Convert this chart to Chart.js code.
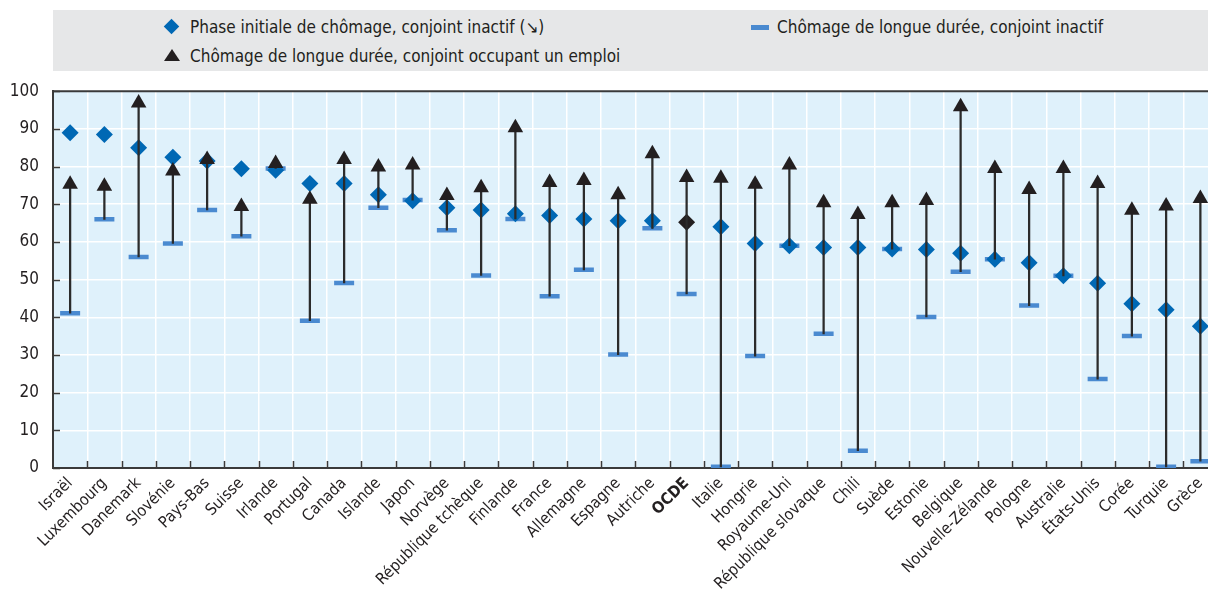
<!DOCTYPE html>
<html>
<head>
<meta charset="utf-8">
<script src="https://cdn.jsdelivr.net/npm/chart.js@4"></script>
<style>
  html, body { margin: 0; padding: 0; background: #fff; overflow: hidden; }
  body { width: 1208px; height: 598px; position: relative; font-family: 'Liberation Sans Narrow', 'DejaVu Sans Condensed', sans-serif; color: #231f20; }
  #legend { position: absolute; z-index: 2; left: 53px; top: 10px; width: 1160px; height: 61px; background: #e6e7e8; font-size: 17px; }
  .item { position: absolute; white-space: nowrap; line-height: 18px; }
  .mk { position: absolute; }
  .dia { width: 11px; height: 11px; background: #0068b4; transform: rotate(45deg); left: -24px; top: 3px; }
  .tri { width: 0; height: 0; border-left: 8px solid transparent; border-right: 8px solid transparent; border-bottom: 12px solid #231f20; left: -26px; top: 2px; }
  .dash { width: 18px; height: 5px; background: #4a8ad0; left: -26px; top: 7px; }
  #wrap { position: absolute; z-index: 1; left: 0; top: 67px; width: 1232px; height: 531px; }
</style>
</head>
<body>
<div id="legend">
  <div class="item" style="left:137px; top:8px;"><span class="mk dia"></span>Phase initiale de chômage, conjoint inactif (↘)</div>
  <div class="item" style="left:724px; top:8px;"><span class="mk dash"></span>Chômage de longue durée, conjoint inactif</div>
  <div class="item" style="left:137px; top:37px;"><span class="mk tri"></span>Chômage de longue durée, conjoint occupant un emploi</div>
</div>
<div id="wrap"><canvas id="chart" width="1232" height="531"></canvas></div>
<script>
const countries = ['Israël', 'Luxembourg', 'Danemark', 'Slovénie', 'Pays-Bas', 'Suisse', 'Irlande', 'Portugal', 'Canada', 'Islande', 'Japon', 'Norvège', 'République tchèque', 'Finlande', 'France', 'Allemagne', 'Espagne', 'Autriche', 'OCDE', 'Italie', 'Hongrie', 'Royaume-Uni', 'République slovaque', 'Chili', 'Suède', 'Estonie', 'Belgique', 'Nouvelle-Zélande', 'Pologne', 'Australie', 'États-Unis', 'Corée', 'Turquie', 'Grèce'];

// phase initiale, conjoint inactif (diamonds)
const initialInactive = [89, 88.5, 85, 82.5, 81.5, 79.4, 79, 75.5, 75.5, 72.5, 70.9, 69.1, 68.5, 67.5, 67, 66.1, 65.6, 65.6, 65.2, 64, 59.6, 59, 58.5, 58.5, 58.1, 58, 57, 55.4, 54.5, 51, 49, 43.6, 42, 37.6];
// longue durée, conjoint inactif (dashes)
const longInactive = [41.1, 66, 56, 59.6, 68.5, 61.5, 79.5, 39.1, 49.1, 69.1, 71.1, 63.1, 51.1, 66.1, 45.6, 52.6, 30.1, 63.6, 46.2, 0.3, 29.7, 59, 35.6, 4.6, 58.1, 40.1, 52.1, 55.4, 43.1, 51, 23.6, 35, 0.3, 1.8];
// longue durée, conjoint occupant un emploi (triangles)
const longEmployed = [75.3, 74.8, 96.9, 78.8, 81.9, 69.4, 80.8, 71.3, 81.9, 79.9, 80.4, 72.3, 74.4, 90.3, 75.8, 76.3, 72.5, 83.4, 77.1, 76.9, 75.3, 80.4, 70.4, 67.3, 70.4, 71, 95.9, 79.5, 73.9, 79.5, 75.5, 68.4, 69.5, 71.5];

const yTicks = [0, 10, 20, 30, 40, 50, 60, 70, 80, 90, 100];
const oecdIndex = countries.indexOf('OCDE');

const plotFrame = {
  id: 'plotFrame',
  beforeDraw(chart) {
    const a = chart.chartArea, c = chart.ctx;
    c.save();
    c.fillStyle = '#dff1fb';
    c.fillRect(a.left, a.top, a.right - a.left, a.bottom - a.top);
    c.restore();
  },
  beforeDatasetsDraw(chart) {
    const a = chart.chartArea, c = chart.ctx;
    const x = chart.scales.x, y = chart.scales.y;
    c.save();
    c.strokeStyle = '#3a3a3a';
    c.lineWidth = 1.5;
    c.beginPath();
    yTicks.forEach(v => {
      const py = Math.round(y.getPixelForValue(v)) + 0.5;
      c.moveTo(a.left, py); c.lineTo(a.left + 7, py);
    });
    for (let i = 1; i < countries.length; i++) {
      const px = Math.round((x.getPixelForValue(i - 1) + x.getPixelForValue(i)) / 2) + 0.5;
      c.moveTo(px, a.bottom); c.lineTo(px, a.bottom - 7);
    }
    c.stroke();
    c.lineWidth = 2;
    c.beginPath();
    c.moveTo(a.left, a.top); c.lineTo(a.right, a.top);
    c.stroke();
    c.restore();
  }
};

new Chart(document.getElementById('chart'), {
  type: 'bar',
  data: {
    labels: countries,
    datasets: [
      {
        type: 'line',
        label: 'Chômage de longue durée, conjoint inactif',
        data: longInactive,
        showLine: false,
        pointStyle: 'line',
        pointRadius: 10,
        pointBorderWidth: 4.5,
        pointBorderColor: '#4a8ad0',
        order: 4
      },
      {
        type: 'line',
        label: 'Phase initiale de chômage, conjoint inactif (↘)',
        data: initialInactive,
        showLine: false,
        pointStyle: 'rectRot',
        pointRadius: 8.5,
        pointBorderWidth: 0,
        pointBackgroundColor: countries.map((c, i) => i === oecdIndex ? '#231f20' : '#0068b4'),
        order: 3
      },
      {
        label: 'range',
        data: longInactive.map((v, i) => [v, longEmployed[i]]),
        backgroundColor: '#2b2b2b',
        barThickness: 1.6,
        grouped: false,
        order: 2
      },
      {
        type: 'line',
        label: 'Chômage de longue durée, conjoint occupant un emploi',
        data: longEmployed,
        showLine: false,
        pointStyle: 'triangle',
        pointRadius: 9,
        pointBorderWidth: 0,
        pointBackgroundColor: '#231f20',
        order: 1
      }
    ]
  },
  plugins: [plotFrame],
  options: {
    responsive: false,
    animation: false,
    layout: { padding: 0 },
    plugins: { legend: { display: false }, tooltip: { enabled: false } },
    scales: {
      x: {
        offset: true,
        grid: { offset: true, color: '#ffffff', lineWidth: 1.5, drawTicks: false },
        border: { color: '#3a3a3a', width: 2 },
        ticks: {
          autoSkip: false,
          maxRotation: 45,
          minRotation: 45,
          padding: 6,
          color: '#231f20',
          font: ctx => ({ family: "'Liberation Sans Narrow', 'DejaVu Sans Condensed', sans-serif", size: 16, weight: ctx.index === oecdIndex ? 'bold' : 'normal' })
        },
        afterFit: s => { s.height = 130; }
      },
      y: {
        min: 0,
        max: 100,
        grid: { color: '#ffffff', lineWidth: 1.5, drawTicks: false },
        border: { color: '#3a3a3a', width: 2 },
        ticks: {
          stepSize: 10,
          padding: 14,
          color: '#231f20',
          font: { family: "'Liberation Sans Narrow', 'DejaVu Sans Condensed', sans-serif", size: 17 }
        },
        afterFit: s => { s.width = 53; }
      }
    }
  }
});
</script>
</body>
</html>
